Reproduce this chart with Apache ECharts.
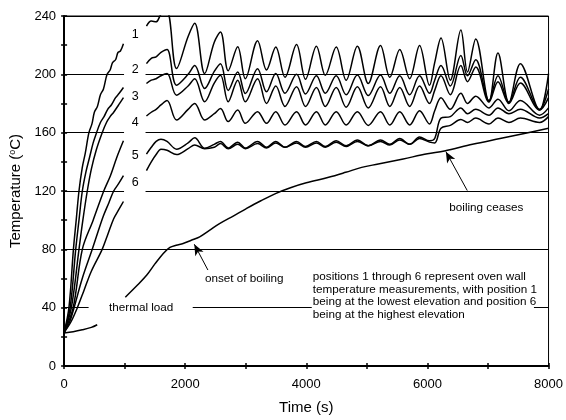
<!DOCTYPE html>
<html lang="en">
<head>
<meta charset="UTF-8">
<title>Oven wall temperatures</title>
<script src="https://cdn.jsdelivr.net/npm/echarts/dist/echarts.min.js"></script>
<style>
  body { margin: 0; background: #fff; }
  #chart { width: 566px; height: 420px; }
</style>
</head>
<body>
<div id="chart"></div>
<script>
// heating-up part of each position, [time s, temperature C]
const pos1Start = [[0,23],[80,40],[154,80],[200,100],[246,120],[300,136],[350,146],[410,160],[460,166],[500,174],[550,178],[600,186],[650,190],[710,200],[760,203],[800,208],[850,210],[890,215],[930,216],[980,221]];
const pos2Start = [[0,23],[100,40],[192,80],[246,100],[301,120],[360,133],[420,143],[480,153],[536,160],[600,167],[660,171],[720,176],[780,179],[850,184],[910,187],[980,191]];
const pos3Start = [[0,23],[120,40],[246,80],[310,100],[383,120],[450,135],[530,148],[629,160],[700,167],[760,171],[819,174],[900,179],[980,184]];
const pos4Start = [[0,23],[150,40],[301,80],[480,100],[655,120],[765,130.5],[870,143],[980,154.4]];
const pos5Start = [[0,23],[90,30],[165,40],[300,60],[465,80],[560,92],[650,103],[740,112],[819,120],[900,125],[980,130.5]];
const pos6Start = [[0,23],[110,30],[219,40],[330,52],[450,65],[629,80],[720,90],[819,101],[900,107],[980,112.8]];

// boiling part, shared time stamps (peaks and troughs)
const boilTimes = [1360,1440,1520,1600,1700,1857,2048,2157,2321,2480,2583,2710,2867,2993,3195,3343,3496,3648,3839,3987,4167,4314,4494,4658,4843,5023,5225,5379,5543,5707,5870,6034,6120,6224,6378,6552,6662,6798,7017,7165,7345,7535,7852,8000];
const pos1Boil = [233,236.5,236,241,243,204,226,235,200.5,222,229,202.5,219,197,223,203,218.7,198,220.4,196.6,219.3,199.3,218.7,196,219.3,193.7,219.8,198,217,197,219.8,192.5,208,225,196,230.4,201.6,224.3,181.2,214.6,180.5,207.3,175.5,200.5];
const pos2Boil = [207.3,211,212,215,217,192.5,200,206,190.3,202,207.3,189,201.6,186.9,203.9,188,200.5,187,200,186.5,199,187,199,186,199.5,185.5,199.5,187,199,186,199,187,196,206,192,213,199,210,182,199,181,198,176,190];
const pos3Boil = [193.7,196,197,199,200.5,185.7,192,197,181.2,194,199.3,181.2,196,181.2,197,180,192,178,191.5,178,191,178,191,177.5,191.5,177,191.5,178,191,178,192,180,189,199,186,206,195,205,181,195,180,194,175.5,184];
const pos4Boil = [171.4,174,176,179,182,168.7,176,180,168.7,173,176.6,167.6,175.5,166.4,174.4,166.4,174.4,165.3,174.4,165.3,174.4,165.3,174.4,165.3,174.4,165,174.4,165.3,174.4,165.3,175,166,175,184,176,187,180,185,177,183,175,182,172,177];
const pos5Boil = [145.3,150,154,155.5,154,148.7,153,156.5,149.4,152,154,149.5,153.5,149.5,154,150,154,150,154,150.5,154,150.5,154.5,151,155,151,155,152,156,152,157,154.4,156,170,171,177,173,176,172,177,173,176,170,173];
const pos6Boil = [134,140,145,148.7,148,145,149,151.6,149,150,152.5,149,152,149,152.5,149.5,153,150,153,150,153,150,153.5,150.5,154,151,154,151.5,155,152,156,153.5,153,163,165,169,167,170,166,170,167,170,167,171];

// thermal load
const loadEarly = [[0,22.7],[150,23.5],[300,24.8],[450,26.5],[547,28.3]];
const loadLate = [[1011,47.2],[1200,55],[1366,62.4],[1500,70],[1638,77.2],[1748,81.3],[1850,82.8],[1966,84],[2100,86.2],[2239,88.6],[2400,93],[2567,97.6],[2800,103],[3004,107.8],[3250,113.3],[3500,118.4],[3750,122.4],[4000,125.6],[4369,129.4],[4650,132.8],[4914,136.2],[5188,138.5],[5600,142],[6000,145.5],[6280,147.5],[6744,152],[7200,156],[7600,159.5],[8000,163]];

const positionLabels = ['1', '2', '3', '4', '5', '6'];
const positionLabelTemps = [227, 203, 185, 167, 144, 126];
const noteText = 'positions 1 through 6 represent oven wall\ntemperature measurements, with position 1\nbeing at the lowest elevation and position 6\nbeing at the highest elevation';

const FAMILY = '"Liberation Sans", Arial, sans-serif';
const smallFont = '11.7px ' + FAMILY;

const chart = echarts.init(document.getElementById('chart'));

function joinParts(start, boil) {
    const out = start.slice();
    out.push([1170, '-']); // gap behind the 1..6 labels
    boilTimes.forEach((t, i) => out.push([t, boil[i]]));
    return out;
}

function curve(name, data) {
    return {
        name: name,
        type: 'line',
        data: data,
        smooth: 0.35,
        showSymbol: false,
        clip: true,
        lineStyle: { color: '#000', width: 1.5 },
        z: 3
    };
}

const series = [
    curve('1', joinParts(pos1Start, pos1Boil)),
    curve('2', joinParts(pos2Start, pos2Boil)),
    curve('3', joinParts(pos3Start, pos3Boil)),
    curve('4', joinParts(pos4Start, pos4Boil)),
    curve('5', joinParts(pos5Start, pos5Boil)),
    curve('6', joinParts(pos6Start, pos6Boil))
];

const load = curve('thermal load', loadEarly.concat([[780, '-']], loadLate));
load.markLine = {
    silent: true,
    symbol: ['none', 'arrow'],
    symbolSize: [7, 11],
    label: { show: false },
    lineStyle: { color: '#000', width: 1, type: 'solid' },
    data: [
        [{ coord: [2375, 65.8] }, { coord: [2150, 83.5] }],
        [{ coord: [6658, 120.3] }, { coord: [6305, 147] }]
    ]
};
series.push(load);

chart.setOption({
    animation: false,
    grid: { left: 63, top: 16, right: 14, bottom: 52, show: true, borderColor: '#000', borderWidth: 1 },
    xAxis: [
        {
            type: 'value', min: 0, max: 8000, interval: 1000,
            name: 'Time (s)', nameLocation: 'middle', nameGap: 34,
            nameTextStyle: { fontSize: 15, color: '#000', fontFamily: FAMILY },
            axisLine: { show: true, lineStyle: { color: '#000', width: 2 } },
            axisTick: { show: true, length: 3, lineStyle: { color: '#000', width: 1.5 } },
            axisLabel: { color: '#000', fontSize: 13, fontFamily: FAMILY, margin: 12,
                formatter: v => (v % 2000 === 0 ? v : '') },
            splitLine: { show: false }
        },
        {
            type: 'value', min: 0, max: 8000, interval: 1000, position: 'bottom',
            axisLine: { show: false },
            axisTick: { show: true, inside: true, length: 3, lineStyle: { color: '#000', width: 1.5 } },
            axisLabel: { show: false },
            splitLine: { show: false }
        }
    ],
    yAxis: [
        {
            type: 'value', min: 0, max: 240, interval: 20,
            name: 'Temperature ({sup|o}C)', nameLocation: 'middle', nameGap: 38,
            nameTextStyle: { fontSize: 15, color: '#000', fontFamily: FAMILY,
                rich: { sup: { fontSize: 9, color: '#000', fontFamily: FAMILY, verticalAlign: 'top', padding: [0, 0, 7, 0] } } },
            axisLine: { show: true, lineStyle: { color: '#000', width: 2 } },
            axisTick: { show: true, length: 3, lineStyle: { color: '#000', width: 1.5 } },
            axisLabel: { color: '#000', fontSize: 13, fontFamily: FAMILY, margin: 8,
                formatter: v => (v % 40 === 0 ? v : '') },
            splitLine: { show: false }
        },
        {
            type: 'value', min: 0, max: 240, interval: 20, position: 'left',
            axisLine: { show: false },
            axisTick: { show: true, inside: true, length: 3, lineStyle: { color: '#000', width: 1.5 } },
            axisLabel: { show: false },
            splitLine: { show: false }
        },
        {
            type: 'value', min: 0, max: 240, interval: 40, position: 'left',
            axisLine: { show: false }, axisTick: { show: false }, axisLabel: { show: false },
            splitLine: { show: true, lineStyle: { color: '#000', width: 1 } }
        }
    ],
    series: series
});

// text annotations, placed from data coordinates
function toPx(t, v) { return chart.convertToPixel({ gridIndex: 0 }, [t, v]); }

function whiteBox(t0, v0, t1, v1) {
    const a = toPx(t0, v0), b = toPx(t1, v1);
    return { type: 'rect', z: 100, shape: { x: a[0], y: a[1], width: b[0] - a[0], height: b[1] - a[1] }, style: { fill: '#fff' } };
}

function note(text, t, v, align, vAlign, font) {
    const p = toPx(t, v);
    return { type: 'text', z: 101, x: p[0], y: p[1],
        style: { text: text, fill: '#000', font: font || smallFont, align: align, verticalAlign: vAlign, lineHeight: 12.8 } };
}

const graphics = [
    whiteBox(990, 239.3, 1345, 116),     // behind the position numbers
    whiteBox(405, 45.8, 2124, 34.3),     // behind "thermal load"
    whiteBox(4090, 66.3, 7759, 30.9)     // behind the long note
];
positionLabels.forEach((s, i) => graphics.push(note(s, 1174, positionLabelTemps[i], 'center', 'middle', '12.5px ' + FAMILY)));
graphics.push(note('thermal load', 1273, 40.2, 'center', 'middle'));
graphics.push(note('onset of boiling', 2976, 59.5, 'center', 'middle'));
graphics.push(note('boiling ceases', 6973, 108.5, 'center', 'middle'));
graphics.push(note(noteText, 4107, 65.7, 'left', 'top'));

chart.setOption({ graphic: graphics });
</script>
</body>
</html>
